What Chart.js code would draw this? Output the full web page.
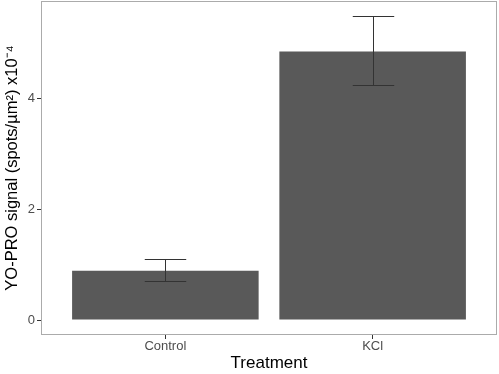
<!DOCTYPE html>
<html>
<head>
<meta charset="utf-8">
<script src="https://cdn.jsdelivr.net/npm/chart.js@4"></script>
<style>
  html, body { margin: 0; padding: 0; background: #fff; }
  #wrap { width: 499px; height: 374px; }
</style>
</head>
<body>
<div id="wrap"><canvas id="chart" width="499" height="374"></canvas></div>
<script>
// Data
const treatments = ['Control', 'KCl'];
const means = [0.89, 4.84];
const lowerErr = [0.70, 4.23];
const upperErr = [1.10, 5.48];
const yTicks = [0, 2, 4];

const FONT = '"Liberation Sans", Arial, sans-serif';

// panel border + error bars drawn through the chart's scales
const panelPlugin = {
    id: 'panel',
    afterDatasetsDraw(chart) {
        const { ctx, chartArea: a, scales: { x, y } } = chart;
        ctx.save();
        ctx.strokeStyle = '#333333';
        ctx.lineWidth = 1;
        treatments.forEach((t, i) => {
            const cx = Math.round(x.getPixelForValue(i + 1)) + 0.5;
            const half = x.getPixelForValue(1.1) - x.getPixelForValue(1);
            const yLo = Math.round(y.getPixelForValue(lowerErr[i])) + 0.5;
            const yHi = Math.round(y.getPixelForValue(upperErr[i])) + 0.5;
            ctx.beginPath();
            ctx.moveTo(cx, yLo); ctx.lineTo(cx, yHi);
            ctx.moveTo(cx - half, yLo); ctx.lineTo(cx + half, yLo);
            ctx.moveTo(cx - half, yHi); ctx.lineTo(cx + half, yHi);
            ctx.stroke();
        });
        ctx.strokeStyle = '#ababab';
        ctx.strokeRect(Math.round(a.left) + 0.5, Math.round(a.top) + 0.5,
            Math.round(a.right - a.left) - 1, Math.round(a.bottom - a.top) - 1);
        ctx.restore();
    }
};

new Chart(document.getElementById('chart').getContext('2d'), {
    type: 'bar',
    data: {
        datasets: [{
            data: means.map((m, i) => ({ x: i + 1, y: m })),
            backgroundColor: '#595959',
            borderWidth: 0,
            barPercentage: 0.9,
            categoryPercentage: 1.0
        }]
    },
    plugins: [panelPlugin],
    options: {
        responsive: false,
        animation: false,
        layout: { padding: { top: 1, right: 2, bottom: 0, left: 0 } },
        plugins: { legend: { display: false }, tooltip: { enabled: false } },
        scales: {
            x: {
                type: 'linear',
                min: 0.4,
                max: 2.6,
                offset: false,
                afterBuildTicks: (s) => { s.ticks = treatments.map((t, i) => ({ value: i + 1 })); },
                afterFit: (s) => { s.height = 39; s.paddingLeft = 0; s.paddingRight = 0; },
                grid: { drawOnChartArea: false, offset: false, tickLength: 4, tickColor: '#333333' },
                border: { display: false },
                ticks: {
                    padding: 0,
                    color: '#4d4d4d',
                    font: { family: FONT, size: 13 },
                    callback: (v) => treatments[v - 1] || ''
                },
                title: {
                    display: true,
                    text: 'Treatment',
                    color: '#000',
                    font: { family: FONT, size: 17 },
                    padding: { top: 0, bottom: 0 }
                }
            },
            y: {
                min: -0.27,
                max: 5.75,
                afterBuildTicks: (s) => { s.ticks = yTicks.map(v => ({ value: v })); },
                afterFit: (s) => { s.width = 41; s.paddingTop = 0; s.paddingBottom = 0; },
                grid: { drawOnChartArea: false, tickLength: 4, tickColor: '#333333' },
                border: { display: false },
                ticks: {
                    padding: 2,
                    color: '#4d4d4d',
                    font: { family: FONT, size: 13 }
                },
                title: {
                    display: true,
                    text: 'YO-PRO signal (spots/µm²) x10⁻⁴',
                    color: '#000',
                    font: { family: FONT, size: 16.5 },
                    padding: { top: 3, bottom: 0 }
                }
            }
        }
    }
});
</script>
</body>
</html>
